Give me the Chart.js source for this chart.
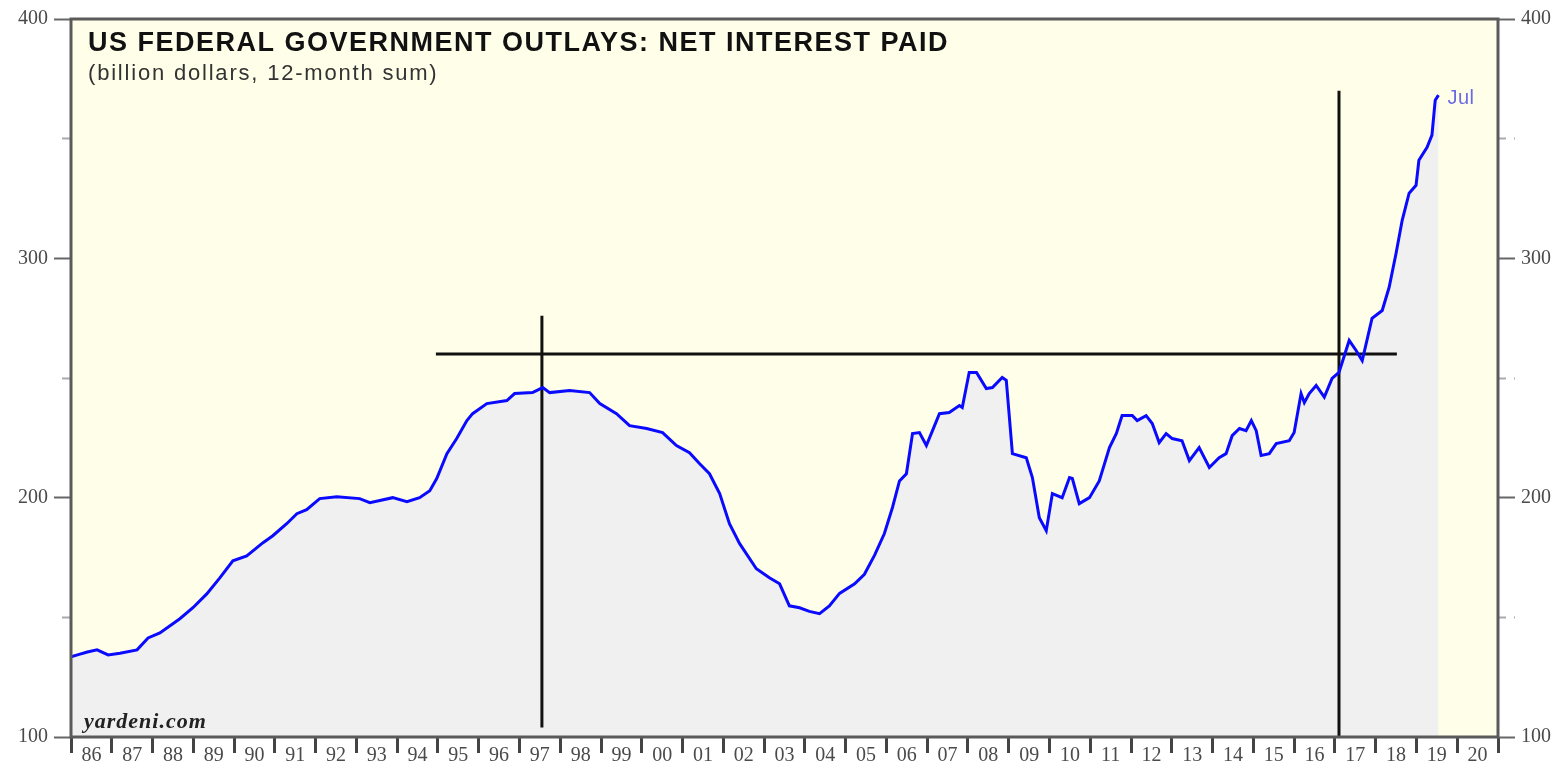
<!DOCTYPE html>
<html>
<head>
<meta charset="utf-8">
<script src="https://cdn.jsdelivr.net/npm/chart.js@4"></script>
<style>
	html, body { margin: 0; padding: 0; background: #fff; }
	#wrap { width: 1561px; height: 769px; }
</style>
</head>
<body>
<div id="wrap"><canvas id="chart"></canvas></div>
<script>
// net interest paid, billion dollars, 12-month sum
const years = [
	1986.00, 1986.20, 1986.40, 1986.64, 1986.91, 1987.20, 1987.62, 1987.89, 1988.18, 1988.67,
	1988.99, 1989.33, 1989.65, 1989.97, 1990.31, 1990.71, 1990.95, 1991.29, 1991.54, 1991.78,
	1992.10, 1992.52, 1993.08, 1993.33, 1993.89, 1994.24, 1994.55, 1994.80, 1994.97, 1995.22,
	1995.46, 1995.71, 1995.85, 1996.20, 1996.69, 1996.88, 1997.32, 1997.57, 1997.74, 1998.23,
	1998.72, 1998.97, 1999.38, 1999.70, 2000.12, 2000.51, 2000.85, 2001.17, 2001.42, 2001.66,
	2001.91, 2002.15, 2002.40, 2002.81, 2003.13, 2003.38, 2003.62, 2003.87, 2004.11, 2004.36,
	2004.60, 2004.85, 2005.22, 2005.46, 2005.71, 2005.95, 2006.15, 2006.32, 2006.49, 2006.64,
	2006.81, 2006.98, 2007.13, 2007.30, 2007.54, 2007.79, 2007.86, 2008.03, 2008.21, 2008.45,
	2008.60, 2008.84, 2008.94, 2009.09, 2009.43, 2009.58, 2009.75, 2009.92, 2010.07, 2010.31,
	2010.49, 2010.56, 2010.73, 2010.98, 2011.22, 2011.47, 2011.64, 2011.78, 2012.03, 2012.15,
	2012.37, 2012.52, 2012.69, 2012.86, 2013.01, 2013.25, 2013.43, 2013.67, 2013.92, 2014.16,
	2014.33, 2014.48, 2014.66, 2014.82, 2014.95, 2015.07, 2015.19, 2015.39, 2015.56, 2015.88,
	2016.00, 2016.17, 2016.25, 2016.37, 2016.54, 2016.74, 2016.93, 2017.10, 2017.35, 2017.52,
	2017.67, 2017.91, 2018.16, 2018.33, 2018.50, 2018.65, 2018.82, 2018.99, 2019.06, 2019.26,
	2019.38, 2019.46, 2019.54
];
const interest = [
	133.5, 134.5, 135.5, 136.4, 134.3, 135.0, 136.4, 141.4, 143.5, 149.4,
	154.0, 159.8, 166.5, 173.6, 175.7, 181.2, 184.1, 189.1, 193.3, 195.0,
	199.6, 200.4, 199.6, 197.9, 200.0, 198.3, 200.0, 202.9, 208.0, 218.4,
	224.7, 232.2, 235.1, 239.3, 240.6, 243.5, 243.9, 246.0, 243.9, 244.8,
	243.9, 239.3, 235.1, 230.1, 228.9, 227.2, 221.8, 218.8, 214.2, 210.0,
	201.7, 189.1, 180.8, 170.3, 166.5, 164.0, 154.8, 154.0, 152.5, 151.5,
	154.8, 160.0, 164.0, 168.0, 176.0, 185.0, 196.0, 207.0, 210.0, 226.8,
	227.2, 221.8, 228.0, 235.1, 235.6, 238.5, 237.7, 252.3, 252.3, 245.6,
	246.0, 250.2, 249.0, 218.4, 216.7, 208.4, 191.6, 186.2, 201.7, 200.0,
	208.4, 208.0, 197.5, 200.0, 207.0, 220.9, 226.8, 234.3, 234.3, 232.2,
	234.3, 231.0, 223.0, 226.8, 224.7, 223.8, 215.5, 220.9, 212.6, 216.7,
	218.4, 225.9, 228.9, 228.0, 232.2, 228.0, 217.6, 218.4, 222.6, 223.8,
	227.2, 243.5, 239.7, 243.5, 246.9, 242.0, 249.8, 252.3, 265.7, 261.5,
	257.3, 274.9, 278.2, 287.9, 302.1, 315.9, 327.2, 330.5, 341.0, 346.4,
	351.5, 366.1, 368.2
];

const yearLabels = [
	'86', '87', '88', '89', '90', '91', '92', '93', '94', '95', '96', '97',
	'98', '99', '00', '01', '02', '03', '04', '05', '06', '07', '08', '09',
	'10', '11', '12', '13', '14', '15', '16', '17', '18', '19', '20'
];
const yTickValues = [100, 150, 200, 250, 300, 350, 400];

// hand-drawn reference lines
const levelValue = 260;
const levelSpan = [1994.95, 2018.52];
const markerYears = [1997.55, 2017.1];
const markerTops = [276, 370];
const markerBottoms = [104, 100];
const lastLabel = 'Jul';

const series = years.map((yr, i) => ({ x: yr, y: interest[i] }));

const decor = {
	id: 'decor',
	beforeDraw(chart) {
		const { ctx, chartArea: a } = chart;
		ctx.save();
		ctx.fillStyle = '#fffee8';
		ctx.fillRect(a.left, a.top, a.right - a.left, a.bottom - a.top);
		ctx.restore();
	},
	afterDraw(chart) {
		const { ctx, chartArea: a } = chart;
		const xs = chart.scales.x;
		const ys = chart.scales.y;
		ctx.save();

		ctx.strokeStyle = '#5a5a5a';
		ctx.lineWidth = 3;
		ctx.strokeRect(a.left, a.top, a.right - a.left, a.bottom - a.top);

		ctx.textAlign = 'left';
		ctx.textBaseline = 'alphabetic';
		ctx.fillStyle = '#111';
		ctx.font = 'bold 27px "Liberation Sans", Arial, sans-serif';
		ctx.letterSpacing = '1.5px';
		ctx.fillText('US FEDERAL GOVERNMENT OUTLAYS: NET INTEREST PAID', a.left + 17, 51);

		ctx.fillStyle = '#333';
		ctx.font = '22px "Liberation Sans", Arial, sans-serif';
		ctx.letterSpacing = '1.8px';
		ctx.fillText('(billion dollars, 12-month sum)', a.left + 17, 80);

		ctx.fillStyle = '#222';
		ctx.font = 'italic bold 22px "Liberation Serif", "Times New Roman", serif';
		ctx.letterSpacing = '1px';
		ctx.fillText('yardeni.com', a.left + 13, 728);

		const lx = xs.getPixelForValue(years[years.length - 1]);
		const ly = ys.getPixelForValue(interest[interest.length - 1]);
		ctx.fillStyle = '#6a6ae6';
		ctx.font = '20px "Liberation Sans", Arial, sans-serif';
		ctx.letterSpacing = '0.5px';
		ctx.fillText(lastLabel, lx + 9, ly + 9);

		ctx.restore();
	}
};

function minorDash(ctx, side) {
	if (ctx.tick && ctx.tick.value % 100 !== 0) {
		return side === 'left' ? [0, 8, 8] : [8, 8];
	}
	return [];
}

function yAxis(side, width) {
	return {
		type: 'linear',
		position: side,
		min: 100,
		max: 400,
		afterBuildTicks: function (scale) {
			scale.ticks = yTickValues.map(v => ({ value: v }));
		},
		afterFit: function (scale) {
			scale.width = width;
		},
		border: { display: false },
		grid: {
			drawOnChartArea: false,
			drawTicks: true,
			tickLength: 17,
			tickWidth: 2,
			tickColor: ctx => (ctx.tick && ctx.tick.value % 100 === 0) ? '#666' : '#aaa',
			tickBorderDash: ctx => minorDash(ctx, side)
		},
		ticks: {
			padding: 6,
			color: '#4a4a4a',
			font: { family: '"Liberation Serif", "Times New Roman", serif', size: 20 },
			callback: function (value) {
				return value % 100 === 0 ? String(value) : '';
			}
		}
	};
}

new Chart(document.getElementById('chart'), {
	type: 'line',
	data: {
		datasets: [
			{
				data: series,
				borderColor: '#0a0aff',
				backgroundColor: '#f0f0f0',
				borderWidth: 3,
				fill: 'start',
				tension: 0,
				pointRadius: 0,
				order: 0
			},
			{
				data: levelSpan.map(x => ({ x: x, y: levelValue })),
				borderColor: '#111',
				borderWidth: 3,
				fill: false,
				pointRadius: 0,
				order: 1
			},
			{
				data: [
					{ x: markerYears[0], y: markerBottoms[0] },
					{ x: markerYears[0], y: markerTops[0] }
				],
				borderColor: '#111',
				borderWidth: 3,
				fill: false,
				pointRadius: 0,
				order: 1
			},
			{
				data: [
					{ x: markerYears[1], y: markerBottoms[1] },
					{ x: markerYears[1], y: markerTops[1] }
				],
				borderColor: '#111',
				borderWidth: 3,
				fill: false,
				pointRadius: 0,
				order: 1
			}
		]
	},
	options: {
		responsive: true,
		maintainAspectRatio: false,
		animation: false,
		layout: { padding: { top: 19, left: 0, right: 0, bottom: 0 } },
		plugins: {
			legend: { display: false },
			tooltip: { enabled: false },
			filler: { drawTime: 'beforeDatasetsDraw' }
		},
		scales: {
			x: {
				type: 'linear',
				position: 'bottom',
				min: 1986,
				max: 2021,
				afterBuildTicks: function (scale) {
					const ticks = [];
					for (let i = 0; i <= yearLabels.length * 2; i++) {
						ticks.push({ value: 1986 + i / 2 });
					}
					scale.ticks = ticks;
				},
				afterFit: function (scale) {
					scale.height = 32;
				},
				border: { display: false },
				grid: {
					drawOnChartArea: false,
					drawTicks: true,
					tickLength: 16,
					tickWidth: 3,
					tickColor: ctx => (ctx.tick && Number.isInteger(ctx.tick.value)) ? '#444' : 'rgba(0,0,0,0)'
				},
				ticks: {
					autoSkip: false,
					maxRotation: 0,
					minRotation: 0,
					padding: -9,
					color: '#4a4a4a',
					font: { family: '"Liberation Serif", "Times New Roman", serif', size: 20 },
					callback: function (value) {
						if (Number.isInteger(value)) {
							return '';
						}
						return yearLabels[Math.floor(value) - 1986];
					}
				}
			},
			y: yAxis('left', 71),
			y2: yAxis('right', 63)
		}
	},
	plugins: [decor]
});
</script>
</body>
</html>
